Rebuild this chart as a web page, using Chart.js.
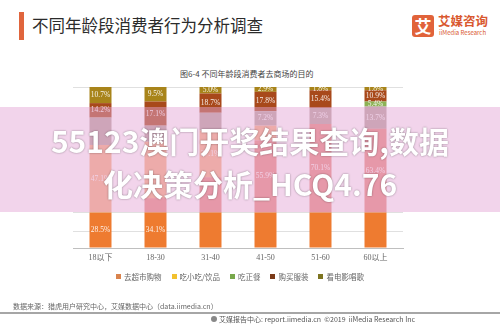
<!DOCTYPE html>
<html>
<head>
<meta charset="utf-8">
<script src="https://cdn.jsdelivr.net/npm/chart.js@4"></script>
<style>
  body { margin: 0; background: #fff; }
  #page { position: relative; width: 500px; height: 325px; overflow: hidden; font-family: "Noto Sans CJK SC", "Noto Sans", sans-serif; }
  #page div, #page span { position: absolute; white-space: nowrap; }
  #chart { position: absolute; left: 0; top: 0; }
</style>
</head>
<body>
<div id="page">
  <div style="left:19px;top:12px;width:5px;height:28px;background:#e0653d;"></div>
  <div style="left:32px;top:13px;font-size:16.5px;line-height:24px;color:#2b2b2b;">不同年龄段消费者行为分析调查</div>

  <div style="left:412px;top:15px;width:22px;height:22px;border-radius:3px;background:#e1633a;color:#fff;font-weight:bold;font-size:17px;line-height:22px;text-align:center;">艾</div>
  <div style="left:438px;top:13px;font-size:12.5px;line-height:16px;font-weight:bold;color:#d9582f;">艾媒咨询</div>
  <div style="left:439px;top:29px;font-size:6px;line-height:8px;color:#d9582f;">iiMedia Research</div>

  <div style="left:180px;top:68px;font-size:8px;line-height:12px;color:#444;">图6-4 不同年龄段消费者去商场的目的</div>

  <canvas id="chart" width="500" height="325"></canvas>

  <div id="legend" style="left:0;top:270px;width:480px;height:12px;"></div>

  <div style="left:13px;top:301px;font-size:7px;line-height:10px;color:#666;">数据来源：猎虎用户研究中心，艾媒数据中心（data.iimedia.cn）</div>
  <div style="left:0;top:312px;width:500px;height:2px;background:#a6a6a6;"></div>
  <div style="left:211px;top:316px;width:6px;height:6px;border-radius:3px;background:#888;"></div>
  <div style="left:219px;top:314px;font-size:7px;line-height:10px;color:#555;">艾媒报告中心: report.iimedia.cn &nbsp;©2019 &nbsp;iiMedia Research Inc</div>

  <div style="left:0;top:107px;width:500px;height:105px;background:rgba(228,165,214,0.48);"></div>
  <div style="left:0;top:122px;width:500px;text-align:center;font-size:30px;line-height:36px;font-weight:bold;color:#fff;text-shadow:0 0 2px rgba(0,0,0,0.45);">55123澳门开奖结果查询,数据</div>
  <div style="left:0;top:165px;width:500px;text-align:center;font-size:30px;line-height:36px;font-weight:bold;color:#fff;text-shadow:0 0 2px rgba(0,0,0,0.45);">化决策分析_HCQ4.76</div>
</div>

<script>
// categories
const ageGroups = ["18以下", "18-30", "31-40", "41-50", "51-60", "60以上"];

// legend
const legendNames = ["去超市购物", "吃小吃/饮品", "吃正餐", "购买服装", "看电影唱歌"];
const legendColors = ["#d9834d", "#f2c12e", "#78a84b", "#7b3a18", "#7d7420"];

// segment heights as share of each bar (%), bottom to top
const supermarket = [22, 22, 22, 22, 22, 22];
const snackPink   = [0, 9, 22, 45, 55, 52];
const snackPeach  = [42, 35, 29, 9, 0, 0];
const mealGray    = [17, 10, 11, 9, 10, 14];
const mealGreen   = [0, 0, 0, 0, 0, 3];
const clothes     = [9, 15, 12, 12, 11, 7];
const movies      = [10, 9, 4, 3, 2, 2];

// printed value labels
const supermarketLabels = ["28.5%", "34.1%", "", "", "", ""];
const snackPinkLabels   = ["", "", "", "55.9%", "70.1%", "63.4%"];
const snackPeachLabels  = ["47.1%", "", "27.1%", "", "", ""];
const mealGrayLabels    = ["", "", "", "7.2%", "7.3%", "13.7%"];
const mealGreenLabels   = ["", "", "", "", "", "5.4%"];
const clothesLabels     = ["14.2%", "17.1%", "18.7%", "17.8%", "15.4%", "10.9%"];
const moviesLabels      = ["10.7%", "9.5%", "5.0%", "2.9%", "1.8%", "1.8%"];

const gridValues = [0, 10, 22, 100];

let legendBox = document.querySelector("#legend");
legendBox.style.display = "flex";
legendBox.style.justifyContent = "center";
legendBox.style.alignItems = "center";
legendNames.forEach((name, i) => {
    let item = document.createElement("span");
    item.style.cssText = "position:static;display:flex;align-items:center;margin:0 5px;font-size:7.5px;color:#666;";
    item.innerHTML = `<i style="display:inline-block;width:5px;height:5px;background:${legendColors[i]};margin-right:3px;"></i>${name}`;
    legendBox.appendChild(item);
});

function makeSet(data, color, labels) {
    return {
        data: data,
        backgroundColor: color,
        valueLabels: labels,
        barPercentage: 0.4,
        categoryPercentage: 1,
        borderWidth: 0,
    };
}

const valueLabelPlugin = {
    id: "valueLabels",
    afterDatasetsDraw(chart) {
        let ctx = chart.ctx;
        ctx.save();
        ctx.font = "7.5px 'Liberation Serif', serif";
        ctx.textAlign = "center";
        ctx.textBaseline = "middle";
        ctx.fillStyle = "rgba(255,255,255,0.9)";
        chart.data.datasets.forEach((ds, di) => {
            let meta = chart.getDatasetMeta(di);
            meta.data.forEach((bar, i) => {
                let text = ds.valueLabels[i];
                if (!text) return;
                ctx.fillText(text, bar.x, (bar.y + bar.base) / 2);
            });
        });
        ctx.restore();
    }
};

new Chart(document.getElementById("chart"), {
    type: "bar",
    data: {
        labels: ageGroups,
        datasets: [
            makeSet(supermarket, "#ee7b30", supermarketLabels),
            makeSet(snackPink, "#e98d80", snackPinkLabels),
            makeSet(snackPeach, "#f5b183", snackPeachLabels),
            makeSet(mealGray, "#bba5a0", mealGrayLabels),
            makeSet(mealGreen, "#8cb255", mealGreenLabels),
            makeSet(clothes, "#a8491b", clothesLabels),
            makeSet(movies, "#a8841a", moviesLabels),
        ],
    },
    options: {
        responsive: false,
        devicePixelRatio: 1,
        animation: false,
        layout: { padding: { left: 73, right: 97, top: 87, bottom: 59 } },
        plugins: {
            legend: { display: false },
            tooltip: { enabled: false },
        },
        scales: {
            x: {
                stacked: true,
                grid: { display: false, drawTicks: false },
                border: { color: "#bfbfbf" },
                ticks: {
                    color: "#666",
                    padding: 5,
                    font: { size: 8, family: "'Liberation Serif', 'Noto Sans CJK SC', serif" },
                },
                afterFit: (s) => { s.height = 18; },
            },
            y: {
                stacked: true,
                min: 0,
                max: 100,
                border: { display: false },
                grid: { color: "#e0e0e0", drawTicks: false },
                ticks: { display: false },
                afterBuildTicks: (s) => { s.ticks = gridValues.map(v => ({ value: v })); },
                afterFit: (s) => { s.width = 0; },
            },
        },
    },
    plugins: [valueLabelPlugin],
});
</script>
</body>
</html>
